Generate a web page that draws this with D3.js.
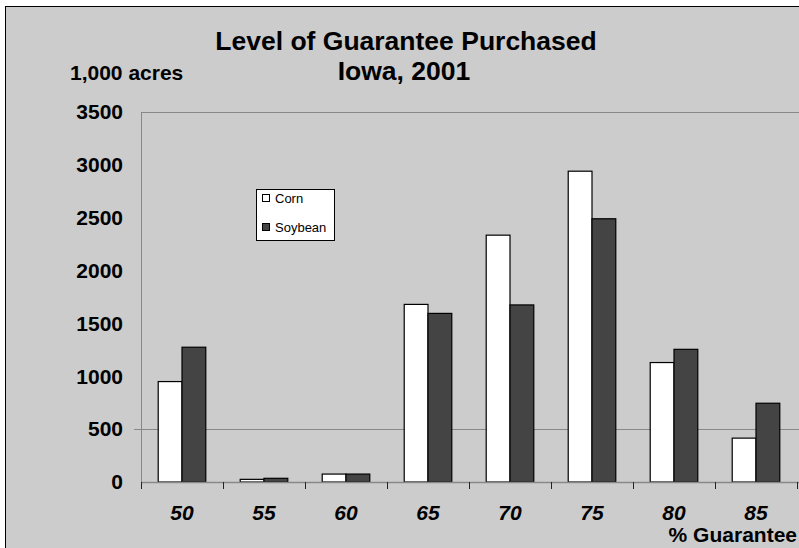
<!DOCTYPE html>
<html>
<head>
<meta charset="utf-8">
<script src="https://cdn.jsdelivr.net/npm/d3@7"></script>
<style>
  body { margin: 0; background: #fff; }
  svg { display: block; font-family: Arial, "Liberation Sans", sans-serif; }
</style>
</head>
<body>
<svg id="chart" width="799" height="548"></svg>
<script>
var categories = ["50", "55", "60", "65", "70", "75", "80", "85"];
var seriesNames = ["Corn", "Soybean"];
var corn = [950, 25, 75, 1680, 2335, 2940, 1130, 415];
var soybean = [1275, 35, 75, 1595, 1675, 2490, 1255, 745];
var yTicks = [0, 500, 1000, 1500, 2000, 2500, 3000, 3500];
var colors = { Corn: "#ffffff", Soybean: "#444444" };

var svg = d3.select("#chart");

// outer frame
svg.append("rect")
  .attr("x", 5.5).attr("y", 6.5)
  .attr("width", 820).attr("height", 560)
  .style("fill", "#cccccc")
  .style("stroke", "#000")
  .style("stroke-width", 1);

var plotLeft = 141, plotRight = 797, plotTop = 112, plotBottom = 482;

var x0 = d3.scaleBand().domain(categories).range([plotLeft, plotRight]);
var x1 = d3.scaleBand().domain(seriesNames)
  .range([x0.bandwidth() * 0.21, x0.bandwidth() * 0.79]);
var y = d3.scaleLinear().domain([0, 3500]).range([plotBottom, plotTop]);

// plot area borders and the single gridline
svg.append("line")
  .attr("x1", plotLeft + 0.5).attr("x2", plotLeft + 0.5)
  .attr("y1", plotTop).attr("y2", plotBottom)
  .style("stroke", "#888").style("stroke-width", 1);
svg.append("line")
  .attr("x1", plotLeft).attr("x2", 799)
  .attr("y1", Math.round(y(3500)) + 0.5).attr("y2", Math.round(y(3500)) + 0.5)
  .style("stroke", "#888").style("stroke-width", 1);
svg.append("line")
  .attr("x1", plotLeft - 7).attr("x2", 799)
  .attr("y1", Math.round(y(500)) + 0.5).attr("y2", Math.round(y(500)) + 0.5)
  .style("stroke", "#888").style("stroke-width", 1);

// bars
var rows = categories.map(function (c, i) {
  return { cat: c, values: [{ key: "Corn", v: corn[i] }, { key: "Soybean", v: soybean[i] }] };
});

svg.append("g")
  .selectAll("g")
  .data(rows)
  .enter()
  .append("g")
  .attr("transform", function (d) { return "translate(" + x0(d.cat) + ",0)"; })
  .selectAll("rect")
  .data(function (d) { return d.values; })
  .enter()
  .append("rect")
  .attr("x", function (d) { return x1(d.key); })
  .attr("y", function (d) { return y(d.v); })
  .attr("width", x1.bandwidth())
  .attr("height", function (d) { return plotBottom - y(d.v); })
  .style("fill", function (d) { return colors[d.key]; })
  .style("stroke", "#000")
  .style("stroke-width", 1.2);

// x axis line and boundary ticks
svg.append("line")
  .attr("x1", plotLeft).attr("x2", 799)
  .attr("y1", plotBottom + 0.5).attr("y2", plotBottom + 0.5)
  .style("stroke", "#888").style("stroke-width", 1.5);

svg.append("g")
  .selectAll("line")
  .data(categories.concat(["end"]))
  .enter()
  .append("line")
  .attr("x1", function (d, i) { return Math.round(plotLeft + i * x0.step()) + 0.5; })
  .attr("x2", function (d, i) { return Math.round(plotLeft + i * x0.step()) + 0.5; })
  .attr("y1", plotBottom).attr("y2", plotBottom + 7)
  .style("stroke", "#222").style("stroke-width", 1);

// x labels
var xAxis = svg.append("g")
  .attr("transform", "translate(0," + plotBottom + ")")
  .call(d3.axisBottom(x0).tickSize(0).tickPadding(23));
xAxis.select(".domain").remove();
xAxis.selectAll("text")
  .style("font-family", "Arial, 'Liberation Sans', sans-serif")
  .style("font-size", "21px")
  .style("font-weight", "bold")
  .style("font-style", "italic")
  .style("fill", "#000");

// y labels
var yAxis = svg.append("g")
  .attr("transform", "translate(" + plotLeft + ",0)")
  .call(d3.axisLeft(y).tickValues(yTicks).tickFormat(d3.format("d")).tickSize(0).tickPadding(18));
yAxis.select(".domain").remove();
yAxis.selectAll("text")
  .style("font-family", "Arial, 'Liberation Sans', sans-serif")
  .style("font-size", "21px")
  .style("font-weight", "bold")
  .style("fill", "#000");

// titles
svg.append("text")
  .attr("x", 406).attr("y", 50)
  .attr("text-anchor", "middle")
  .style("font-size", "26.5px").style("font-weight", "bold")
  .text("Level of Guarantee Purchased");
svg.append("text")
  .attr("x", 404).attr("y", 80)
  .attr("text-anchor", "middle")
  .style("font-size", "26.5px").style("font-weight", "bold")
  .text("Iowa, 2001");

svg.append("text")
  .attr("x", 70).attr("y", 80)
  .style("font-size", "21px").style("font-weight", "bold")
  .text("1,000 acres");

svg.append("text")
  .attr("x", 797).attr("y", 542)
  .attr("text-anchor", "end")
  .style("font-size", "21px").style("font-weight", "bold")
  .text("% Guarantee");

// legend
var legend = svg.append("g").attr("transform", "translate(256,189)");
legend.append("rect")
  .attr("x", 0.5).attr("y", 0.5)
  .attr("width", 78).attr("height", 51)
  .style("fill", "#fff").style("stroke", "#000").style("stroke-width", 1);

var items = legend.selectAll("g.item")
  .data(seriesNames)
  .enter()
  .append("g")
  .attr("class", "item")
  .attr("transform", function (d, i) { return "translate(6," + (9 + i * 29) + ")"; });
items.append("rect")
  .attr("x", 0.5).attr("y", -3.5)
  .attr("width", 7).attr("height", 7)
  .style("fill", function (d) { return colors[d]; })
  .style("stroke", "#000").style("stroke-width", 1);
items.append("text")
  .attr("x", 13).attr("y", 0)
  .attr("dy", "0.35em")
  .style("font-size", "13px")
  .text(function (d) { return d; });
</script>
</body>
</html>
